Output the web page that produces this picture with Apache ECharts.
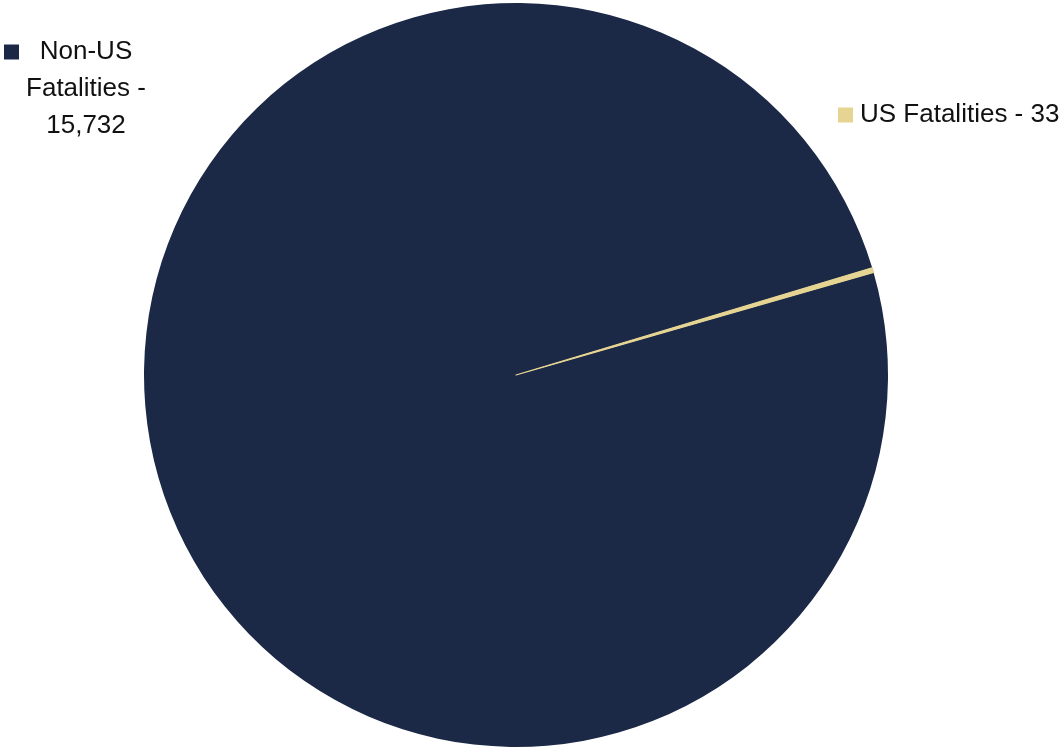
<!DOCTYPE html>
<html>
<head>
<meta charset="utf-8">
<script src="https://cdn.jsdelivr.net/npm/echarts@6/dist/echarts.min.js"></script>
<style>
html,body{margin:0;padding:0;background:#fff;}
#chart{width:1062px;height:748px;}
</style>
</head>
<body>
<div id="chart"></div>
<script>
const categories = ['Non-US Fatalities', 'US Fatalities'];
const values = [15732, 33];
const colors = ['#1B2947', '#E6D492'];

const chart = echarts.init(document.getElementById('chart'), null, {renderer: 'canvas'});
const fmt = v => v.toLocaleString('en-US');
const FONT = 'Liberation Sans, Arial, sans-serif';

const option = {
  backgroundColor: '#ffffff',
  animation: false,
  series: [{
    type: 'pie',
    center: [516, 375],
    radius: [0, 372],
    startAngle: 16,
    clockwise: true,
    avoidLabelOverlap: false,
    labelLine: {show: false},
    data: categories.map((c, i) => ({
      name: c,
      value: values[i],
      itemStyle: i === 1
        ? {color: colors[i], borderColor: colors[i], borderWidth: 1.2}
        : {color: colors[i], borderWidth: 0}
    })),
    label: {
      show: true,
      position: 'outside',
      fontFamily: FONT,
      fontSize: 26,
      color: '#000',
      formatter: function (p) {
        if (p.dataIndex === 0) {
          return '{sq0|}{c|Non-US}\n{s|}{c|Fatalities -}\n{s|}{c|' + fmt(p.value) + '}';
        }
        return '{sq1|}{g|}{t|' + p.name + ' - ' + fmt(p.value) + '}';
      },
      rich: {
        sq0: {width: 15, height: 15, backgroundColor: colors[0]},
        sq1: {width: 15, height: 15, backgroundColor: colors[1]},
        s: {width: 15, height: 15},
        g: {width: 7},
        c: {width: 134, align: 'center', fontSize: 26, lineHeight: 37, fontFamily: FONT, color: '#111'},
        t: {fontSize: 26, lineHeight: 37, fontFamily: FONT, color: '#111'}
      }
    },
    labelLayout: function (params) {
      if (params.dataIndex === 0) {
        return {x: 4, y: 89, align: 'left', verticalAlign: 'middle'};
      }
      return {x: 838, y: 115, align: 'left', verticalAlign: 'middle'};
    }
  }]
};
chart.setOption(option);
</script>
</body>
</html>
